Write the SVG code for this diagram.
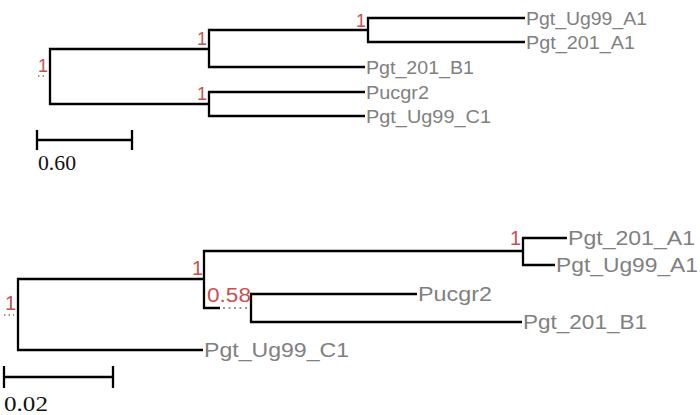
<svg xmlns="http://www.w3.org/2000/svg" width="700" height="415" viewBox="0 0 700 415">
<style>
.br{fill:none;stroke:#000;stroke-width:2.3}
.dot{fill:none;stroke:#777;stroke-width:1.6;stroke-dasharray:1.5 3}
.lf{font-family:"Liberation Sans",Arial,sans-serif;fill:#808080}
.t1{font-size:18.5px}
.t2{font-size:20.5px}
.sup{font-family:"Liberation Sans",Arial,sans-serif;fill:#c8504f;text-anchor:end}
.s1{font-size:18px}
.s2{font-size:20px}
.sc{font-family:"Liberation Serif","Times New Roman",serif;fill:#111;font-size:22px}
</style>
<rect width="700" height="415" fill="#fff"/>
<g id="connectors">
<path class="br" d="M525,18 H368 V42 H525"/>
<path class="br" d="M368,30 H209 V67 H365"/>
<path class="br" d="M365,92 H209 V116 H365"/>
<path class="br" d="M209,49 H50 V104 H209"/>
<path class="dot" d="M38,76 H47"/>
<path class="br" d="M567,238 H523 V265 H555"/>
<path class="br" d="M417,294 H251 V322 H522"/>
<path class="br" d="M523,251 H204 V308 H220"/>
<path class="dot" d="M223,308 H250" style="stroke-dasharray:2 3.5"/>
<path class="br" d="M204,279 H18 V350 H203"/>
<path class="dot" d="M4,315 H14"/>
</g>
<g id="top-leaf-Pgt_Ug99_A1"><text class="lf t1" x="526" y="24.5" textLength="121" lengthAdjust="spacingAndGlyphs">Pgt_Ug99_A1</text></g>
<g id="top-leaf-Pgt_201_A1"><text class="lf t1" x="526" y="48.5" textLength="109" lengthAdjust="spacingAndGlyphs">Pgt_201_A1</text></g>
<g id="top-leaf-Pgt_201_B1"><text class="lf t1" x="366" y="73.5" textLength="108" lengthAdjust="spacingAndGlyphs">Pgt_201_B1</text></g>
<g id="top-leaf-Pucgr2"><text class="lf t1" x="366" y="98.5" textLength="63" lengthAdjust="spacingAndGlyphs">Pucgr2</text></g>
<g id="top-leaf-Pgt_Ug99_C1"><text class="lf t1" x="366" y="122.5" textLength="125" lengthAdjust="spacingAndGlyphs">Pgt_Ug99_C1</text></g>
<g id="top-node-A"><text class="sup s1" x="366" y="27">1</text></g>
<g id="top-node-B"><text class="sup s1" x="207" y="45">1</text></g>
<g id="top-node-C"><text class="sup s1" x="207" y="100">1</text></g>
<g id="top-root"><text class="sup s1" x="48" y="72">1</text></g>
<g id="top-scale">
<path class="br" d="M37,130 V150 M37,140 H132 M132,130 V150"/>
<text class="sc" x="38" y="170" textLength="38" lengthAdjust="spacingAndGlyphs">0.60</text>
</g>
<g id="bot-leaf-Pgt_201_A1"><text class="lf t2" x="568" y="245" textLength="127" lengthAdjust="spacingAndGlyphs">Pgt_201_A1</text></g>
<g id="bot-leaf-Pgt_Ug99_A1"><text class="lf t2" x="556" y="272" textLength="142" lengthAdjust="spacingAndGlyphs">Pgt_Ug99_A1</text></g>
<g id="bot-leaf-Pucgr2"><text class="lf t2" x="418" y="301" textLength="74" lengthAdjust="spacingAndGlyphs">Pucgr2</text></g>
<g id="bot-leaf-Pgt_201_B1"><text class="lf t2" x="523" y="329" textLength="124" lengthAdjust="spacingAndGlyphs">Pgt_201_B1</text></g>
<g id="bot-leaf-Pgt_Ug99_C1"><text class="lf t2" x="204" y="357" textLength="145" lengthAdjust="spacingAndGlyphs">Pgt_Ug99_C1</text></g>
<g id="bot-node-A"><text class="sup s2" x="521" y="245">1</text></g>
<g id="bot-node-B"><text class="sup s2" x="251" y="302" textLength="44" lengthAdjust="spacingAndGlyphs">0.58</text></g>
<g id="bot-node-C"><text class="sup s2" x="203" y="275">1</text></g>
<g id="bot-root"><text class="sup s2" x="16" y="310">1</text></g>
<g id="bot-scale">
<path class="br" d="M4,366 V388 M4,377 H113 M113,366 V388"/>
<text class="sc" x="4" y="411" textLength="44" lengthAdjust="spacingAndGlyphs">0.02</text>
</g>
</svg>
